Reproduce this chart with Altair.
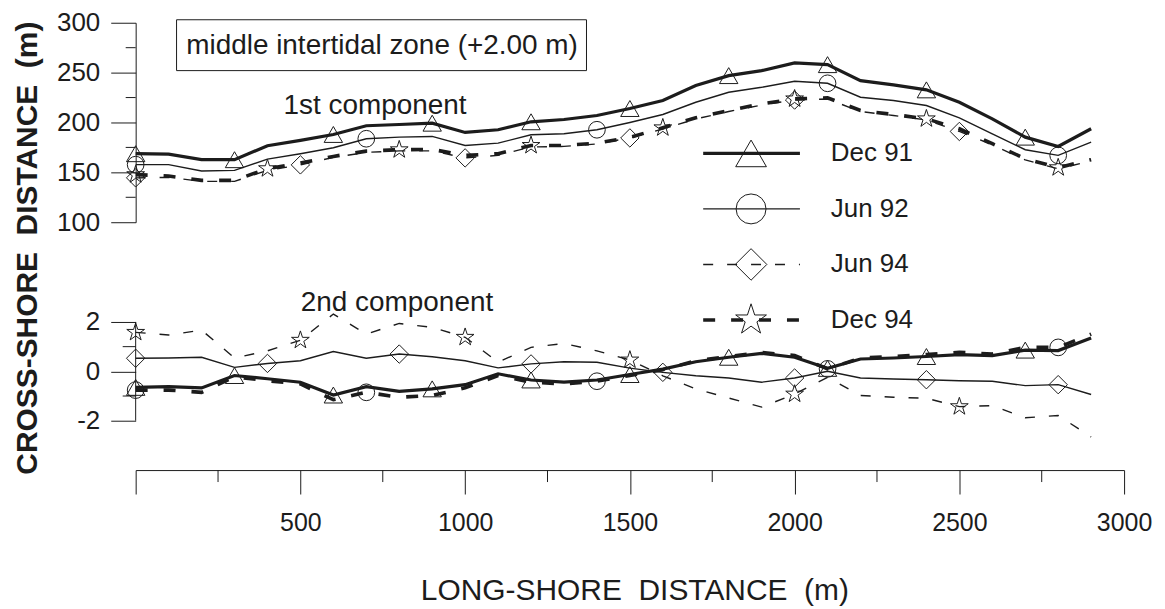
import altair as alt
import pandas as pd

# ---------------- data ----------------
X_M = list(range(0, 3000, 100))
SERIES = ["Dec 91", "Jun 92", "Jun 94", "Dec 94"]

# 1st component (m)
top_dec91 = [168.7, 168.3, 162.7, 162.7, 176.7, 182.0, 188.0, 196.7, 198.0, 199.3,
             190.0, 192.7, 200.7, 203.0, 207.0, 214.0, 222.0, 237.0, 247.0, 252.0,
             259.7, 258.0, 242.0, 237.7, 232.7, 220.3, 203.7, 185.3, 176.0, 193.7]
top_jun92 = [157.7, 157.7, 151.3, 152.0, 163.3, 168.7, 174.7, 183.7, 185.3, 186.0,
             177.0, 179.3, 187.7, 188.7, 192.7, 200.0, 208.0, 220.3, 230.3, 235.3,
             241.3, 239.3, 225.3, 222.0, 217.0, 204.7, 188.7, 172.7, 167.0, 180.3]
top_jun94 = [144.5, 145.0, 141.0, 141.0, 152.0, 157.5, 165.0, 170.0, 171.5, 171.5,
             164.5, 167.0, 175.5, 176.0, 178.5, 184.5, 193.5, 203.5, 211.0, 217.5,
             222.5, 223.5, 211.0, 207.0, 202.5, 191.0, 177.5, 162.5, 153.5, 161.5]
top_dec94 = [147.7, 146.3, 142.0, 142.0, 153.7, 159.3, 166.0, 171.3, 172.7, 173.0,
             167.0, 168.7, 177.0, 177.0, 179.3, 185.0, 194.7, 204.7, 212.0, 218.7,
             223.7, 224.7, 212.0, 208.0, 203.7, 193.7, 178.7, 163.7, 154.7, 162.7]

# 2nd component
bot_dec91 = [-0.65, -0.62, -0.67, -0.17, -0.30, -0.44, -0.96, -0.62, -0.81, -0.71,
             -0.54, -0.10, -0.35, -0.44, -0.35, -0.13, 0.09, 0.39, 0.57, 0.73,
             0.57, 0.12, 0.50, 0.54, 0.60, 0.68, 0.64, 0.86, 0.84, 1.35]
bot_jun92 = [0.53, 0.54, 0.57, 0.16, 0.32, 0.43, 0.80, 0.53, 0.70, 0.59,
             0.43, 0.14, 0.30, 0.39, 0.37, 0.13, -0.04, -0.18, -0.27, -0.44,
             -0.27, 0.00, -0.27, -0.31, -0.34, -0.38, -0.40, -0.58, -0.54, -0.94]
bot_jun94 = [1.58, 1.47, 1.67, 0.54, 0.83, 1.26, 2.32, 1.51, 1.94, 1.78,
             1.38, 0.37, 0.97, 1.13, 0.83, 0.46, -0.18, -0.71, -1.08, -1.45,
             -0.92, -0.24, -0.98, -1.05, -1.09, -1.43, -1.39, -1.88, -1.79, -2.66]
bot_dec94 = [-0.76, -0.76, -0.85, -0.22, -0.38, -0.51, -1.15, -0.85, -1.05, -0.98,
             -0.67, -0.17, -0.44, -0.51, -0.40, -0.17, 0.06, 0.43, 0.60, 0.76,
             0.64, 0.10, 0.54, 0.60, 0.68, 0.77, 0.70, 0.97, 0.97, 1.51]

X_TICKS = [0, 500, 1000, 1500, 2000, 2500, 3000]
X_MINOR = [250, 750, 1250, 1750, 2250, 2750]
TOP_TICKS = [100, 150, 200, 250, 300]
TOP_MINOR = [125, 175, 225, 275]
BOT_TICKS = [-2, 0, 2]
BOT_MINOR = [-1, 1]

NB = "\u00a0"
Y_TITLE = "CROSS-SHORE" + NB + " DISTANCE" + NB + " (m)"
X_TITLE = "LONG-SHORE" + NB + " DISTANCE" + NB + " (m)"

# ---------------- styles ----------------
INK = "#1c1c1c"
FONT = "Liberation Sans"
STAR = ("M0,-1L0.225,-0.309L0.951,-0.309L0.363,0.118L0.588,0.809L0,0.382"
        "L-0.588,0.809L-0.363,0.118L-0.951,-0.309L-0.225,-0.309Z")

LINE_STYLE = {
    "Dec 91": dict(strokeWidth=3.2),
    "Jun 92": dict(strokeWidth=1.4),
    "Jun 94": dict(strokeWidth=1.4, strokeDash=[10, 14]),
    "Dec 94": dict(strokeWidth=3.6, strokeDash=[12, 16]),
}
SIZE = {"triangle-up": 340, "circle": 280, "diamond": 340, STAR: 350}
LEG_SIZE = {"triangle-up": 950, "circle": 900, "diamond": 1000, STAR: 1050}
TOP_MARK = {"Dec 91": ("triangle-up", 300), "Jun 92": ("circle", 700),
            "Jun 94": ("diamond", 500), "Dec 94": (STAR, 400)}
BOT_MARK = {"Dec 91": ("triangle-up", 300), "Jun 92": ("diamond", 400),
            "Jun 94": (STAR, 500), "Dec 94": ("circle", 700)}
LEG_MARK = {"Dec 91": "triangle-up", "Jun 92": "circle", "Jun 94": "diamond", "Dec 94": STAR}

W = 991
H_TOP = 200
H_BOT = 148.5
HYPHEN_LABEL = "datum.value < 0 ? '-' + abs(datum.value) : '' + datum.value"


def frame(vals):
    return pd.DataFrame({"x": X_M, "y": vals})


top_data = dict(zip(SERIES, [top_dec91, top_jun92, top_jun94, top_dec94]))
bot_data = dict(zip(SERIES, [bot_dec91, bot_jun92, bot_jun94, bot_dec94]))

X_SCALE = alt.Scale(domain=[0, 3000], nice=False, zero=False)
X_AXIS = alt.Axis(values=X_TICKS, tickSize=24, labelPadding=17, labelFontSize=25,
                  labelExpr="datum.value == 0 ? '' : '' + datum.value", labelFlush=False,
                  title=X_TITLE, titleFontSize=30,
                  titleFontWeight="normal", titleY=121, titleX=500, titleBaseline="middle",
                  grid=False)
TOP_Y = dict(scale=alt.Scale(domain=[100, 300], nice=False, zero=False),
             axis=alt.Axis(values=TOP_TICKS, tickSize=25, labelPadding=11,
                           labelFontSize=26, title=None, grid=False,
                           labelExpr=HYPHEN_LABEL))
BOT_Y = dict(scale=alt.Scale(domain=[-4, 2], nice=False, zero=False),
             axis=alt.Axis(values=BOT_TICKS, tickSize=25, labelPadding=11,
                           labelFontSize=26, title=None, grid=False, domain=False,
                           labelExpr=HYPHEN_LABEL))


def panel_layers(data, marks, ydef, xaxis):
    layers = []
    for s in SERIES:
        df = frame(data[s])
        layers.append(
            alt.Chart(df).mark_line(color=INK, **LINE_STYLE[s]).encode(
                x=alt.X("x:Q", scale=X_SCALE, axis=xaxis),
                y=alt.Y("y:Q", **ydef)))
    for s in SERIES:
        shape, step = marks[s]
        df = frame(data[s])
        df = df[df["x"] % step == 0]
        layers.append(
            alt.Chart(df).mark_point(shape=shape, size=SIZE[shape], filled=False,
                                     color=INK, strokeWidth=1, opacity=1).encode(
                x=alt.X("x:Q", scale=X_SCALE, axis=xaxis),
                y=alt.Y("y:Q", **ydef)))
    return layers


one = pd.DataFrame({"a": [0]})

# ---------------- top panel ----------------
top_layers = panel_layers(top_data, TOP_MARK, TOP_Y, None)
top_layers.append(
    alt.Chart(pd.DataFrame({"y": TOP_MINOR})).mark_rule(color=INK, strokeWidth=1).encode(
        y=alt.Y("y:Q", **TOP_Y), x=alt.value(-10), x2=alt.value(0)))
top_layers.append(
    alt.Chart(one).mark_rule(strokeOpacity=0, opacity=0).encode(
        x=alt.value(-128), x2=alt.value(-127), y=alt.value(-14), y2=alt.value(-13)))
top_layers.append(
    alt.Chart(pd.DataFrame({"t": [Y_TITLE]})).mark_text(
        angle=270, fontSize=30, fontWeight="bold", font=FONT, color=INK,
        align="center", baseline="middle").encode(
        text="t:N", x=alt.value(-108), y=alt.value(226)))
top_layers.append(
    alt.Chart(one).mark_rect(fillOpacity=0, stroke=INK, strokeWidth=1).encode(
        x=alt.value(41), x2=alt.value(452), y=alt.value(-3), y2=alt.value(48)))
top_layers.append(
    alt.Chart(pd.DataFrame({"t": ["middle intertidal zone (+2.00 m)"]})).mark_text(
        fontSize=28, font=FONT, color=INK, align="center", baseline="middle").encode(
        text="t:N", x=alt.value(247), y=alt.value(23)))
top_layers.append(
    alt.Chart(pd.DataFrame({"t": ["1st component"]})).mark_text(
        fontSize=28, font=FONT, color=INK, align="center", baseline="middle").encode(
        text="t:N", x=alt.value(240), y=alt.value(83)))

main_top = alt.layer(*top_layers)

# legend (drawn by hand: line sample with its marker, like the original)
leg_df = pd.DataFrame({"series": SERIES})
LEG_Y = alt.Y("series:N", scale=alt.Scale(type="point", domain=SERIES, range=[131, 298],
                                          padding=0), axis=None)
leg_layers = []
for s in SERIES:
    d = leg_df[leg_df["series"] == s]
    leg_layers.append(alt.Chart(d).mark_rule(color=INK, **LINE_STYLE[s]).encode(
        y=LEG_Y, x=alt.value(569), x2=alt.value(666)))
    shape = LEG_MARK[s]
    leg_layers.append(alt.Chart(d).mark_point(shape=shape, size=LEG_SIZE[shape], filled=False,
                                              color=INK, strokeWidth=1, opacity=1).encode(
        y=LEG_Y, x=alt.value(617)))
leg_layers.append(alt.Chart(leg_df).mark_text(
    fontSize=26, font=FONT, color=INK, align="left", baseline="middle").encode(
    y=LEG_Y, x=alt.value(697), text="series:N"))
legend = alt.layer(*leg_layers)

top = alt.layer(main_top, legend).resolve_scale(y="independent").properties(
    width=W, height=H_TOP)

# ---------------- bottom panel ----------------
bot_layers = panel_layers(bot_data, BOT_MARK, BOT_Y, X_AXIS)
bot_layers.append(
    alt.Chart(pd.DataFrame({"y": BOT_MINOR})).mark_rule(color=INK, strokeWidth=1).encode(
        y=alt.Y("y:Q", **BOT_Y), x=alt.value(-13), x2=alt.value(0)))
bot_layers.append(
    alt.Chart(pd.DataFrame({"y": [min(BOT_TICKS)], "y2": [max(BOT_TICKS)]})).mark_rule(
        color=INK, strokeWidth=1).encode(
        y=alt.Y("y:Q", **BOT_Y), y2="y2:Q", x=alt.value(0)))
bot_layers.append(
    alt.Chart(pd.DataFrame({"x": X_MINOR})).mark_rule(color=INK, strokeWidth=1).encode(
        x=alt.X("x:Q", scale=X_SCALE, axis=X_AXIS), y=alt.value(H_BOT),
        y2=alt.value(H_BOT + 12)))
bot_layers.append(
    alt.Chart(pd.DataFrame({"t": ["2nd component"]})).mark_text(
        fontSize=28, font=FONT, color=INK, align="center", baseline="middle").encode(
        text="t:N", x=alt.value(262), y=alt.value(-19)))

bottom = alt.layer(*bot_layers).properties(width=W, height=H_BOT)

chart = alt.vconcat(top, bottom, spacing=100, bounds="flush").properties(
    padding={"left": 0, "top": 0, "right": 5, "bottom": 0},
    background="white",
).configure_view(stroke=None).configure_axis(
    labelFont=FONT, titleFont=FONT, labelColor=INK, titleColor=INK,
    domainColor=INK, tickColor=INK, domainWidth=1, tickWidth=1,
)

chart.save("out.html", embed_options={"renderer": "svg", "actions": False})
